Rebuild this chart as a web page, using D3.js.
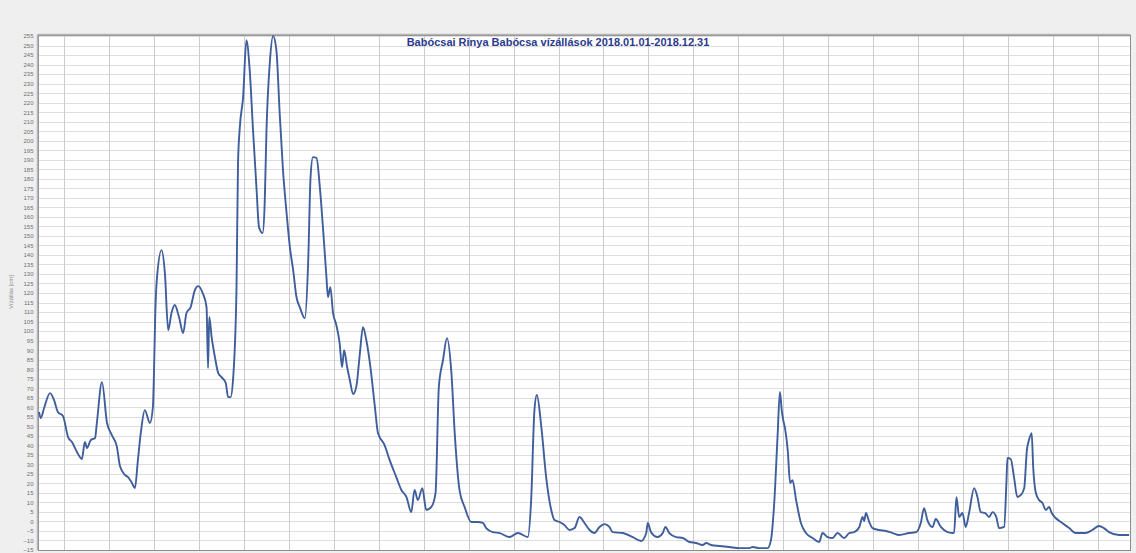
<!DOCTYPE html>
<html>
<head>
<meta charset="utf-8">
<script src="https://cdn.jsdelivr.net/npm/d3@7"></script>
<style>
  html, body { margin: 0; padding: 0; background: #efefef; }
  svg { display: block; }
</style>
</head>
<body>
<svg id="chart" width="1136" height="553"></svg>
<script>
// Babócsa gauge (Rinya) water levels, 2018 — day of year (0 = Jan 1) and level in cm
const chartTitle = "Babócsai Rinya Babócsa vízállások 2018.01.01-2018.12.31";
const axisTitle = "Vízállás [cm]";

const dayOfYear = [
  0, 0.6, 1.7, 3.7, 5.0, 6.3, 8.0, 9.7, 11.0, 12.7, 14.3, 15.3, 16.0, 17.3, 18.7, 19.3,
  21.0, 22.7, 24.3, 26.0, 27.0, 28.7, 29.7, 31.0, 32.0, 33.0, 34.0, 35.3, 37.0, 38.0,
  38.3, 38.8, 39.3, 40.9, 42.0, 43.1, 44.2, 45.3, 46.7, 48.1, 49.2, 50.6, 52.0, 53.1,
  54.6, 55.9, 56.4, 56.8, 57.6, 58.7, 59.8, 60.9, 62.3, 63.1, 63.9, 64.8, 65.9, 66.4,
  67.0, 68.1, 69.2, 70.3, 71.4, 72.6, 73.4, 74.6, 75.3, 75.9, 77.0, 78.1, 79.2, 80.3,
  81.4, 82.6, 83.7, 84.8, 85.9, 87.0, 88.7, 89.8, 90.6, 91.4, 92.6, 93.7, 94.8, 95.9,
  96.4, 97.2, 98.1, 99.2, 100.3, 101.1, 101.8, 102.8, 103.7, 104.8, 105.9, 107.0, 108.1,
  109.2, 110.7, 112.0, 113.1, 115.3, 117.0, 119.2, 120.9, 122.6, 124.2, 125.3, 126.4,
  127.9, 129.2, 130.9, 132.3, 133.4, 134.8, 136.1, 137.6, 138.7, 140.3, 142.0, 144.2,
  146.4, 148.1, 149.2, 151.4, 153.7, 157.0, 159.8, 163.1, 164.2, 165.3, 166.1, 167.6,
  169.2, 170.9, 172.0, 173.7, 175.3, 177.0, 178.7, 180.3, 182.0, 183.7, 185.3, 187.0,
  188.7, 190.3, 191.4, 194.8, 198.1, 200.9, 202.6, 203.1, 204.2, 206.4, 208.1, 209.0,
  210.3, 212.6, 214.8, 217.0, 219.2, 221.4, 222.6, 224.2, 227.0, 230.3, 233.7, 237.0,
  238.1, 240.3, 243.1, 244.2, 245.3, 246.4, 247.2, 247.8, 248.3, 249.0, 249.8, 250.6,
  251.4, 252.6, 254.2, 255.9, 258.1, 260.3, 261.4, 263.1, 264.8, 266.4, 268.7, 270.3,
  272.0, 273.7, 274.8, 275.3, 275.9, 277.0, 278.1, 280.3, 282.6, 284.8, 287.0, 290.3,
  292.6, 294.2, 295.3, 296.4, 298.1, 299.2, 300.9, 303.1, 305.3, 306.1, 307.0, 308.1,
  309.2, 310.3, 312.0, 313.1, 314.2, 315.7, 317.0, 318.1, 319.4, 320.3, 322.0, 322.8,
  323.1, 324.2, 325.3, 326.4, 327.6, 328.7, 329.6, 330.3, 331.2, 331.7, 332.6, 333.7,
  334.8, 335.9, 337.0, 337.9, 339.2, 341.4, 343.7, 345.9, 349.2, 351.4, 353.7, 355.3,
  357.0, 360.3, 363.7
];

const level = [
  57.5, 54.3, 59.6, 67.4, 63.8, 57.5, 55.4, 44.3, 41.7, 36.4, 32.8, 41.7, 38.6, 42.8, 43.8, 51.7,
  73.2, 51.7, 45.4, 39.1, 29.1, 24.4, 23.3, 20.2, 17.5, 32.2, 47.0, 58.5, 51.7, 60.1,
  74.3, 109.5, 126.8, 142.5, 130.5, 100.5, 109.5, 113.7, 107.4, 99.0, 109.5, 112.6, 121.5, 123.6,
  120.0, 112.6, 80.6, 107.4, 96.8, 86.3, 77.9, 75.8, 72.7, 65.3, 65.3, 75.8, 123.1, 188.2,
  207.1, 222.9, 252.8, 237.1, 205.6, 174.1, 154.6, 151.5, 167.2, 205.6, 240.8, 255.0, 247.6, 214.5,
  184.6, 162.0, 144.1, 132.0, 117.9, 112.6, 106.8, 135.7, 180.9, 191.4, 190.9, 175.6, 153.0, 128.4,
  117.9, 123.1, 109.5, 103.2, 93.7, 81.1, 90.0, 81.1, 74.3, 66.9, 71.1, 87.4, 102.1,
  95.3, 79.5, 61.1, 46.4, 40.1, 32.2, 23.3, 16.5, 12.8, 4.9, 16.5, 11.2,
  17.5, 6.0, 7.6, 14.9, 70.6, 84.8, 96.3, 77.9, 46.4, 16.5, 7.6, -0.3,
  -0.3, -0.8, -3.5, -5.6, -6.1, -8.2, -6.1, -8.2, 11.2, 58.5, 66.4, 49.6,
  23.3, 6.0, 0.7, -0.3, -1.9, -4.5, -3.5, 2.3, -0.8, -4.5, -6.1, -2.9,
  -1.4, -2.9, -5.6, -6.1, -8.2, -10.3, -6.1, -0.8, -5.6, -8.2, -6.1, -2.9,
  -6.1, -8.2, -8.7, -10.8, -11.3, -12.4, -11.3, -12.4, -12.9, -13.4, -14.0, -14.0,
  -13.4, -14.0, -14.0, -9.8, 9.7, 44.3, 68.0, 58.5, 53.3, 48.0, 37.5, 20.2,
  21.7, 11.2, -0.8, -6.1, -8.7, -10.8, -6.1, -8.2, -8.7, -6.1, -8.7, -6.1,
  -5.6, -2.9, 2.3, 0.2, 4.4, -0.3, -3.5, -4.5, -5.0, -6.1, -7.1, -6.1,
  -5.6, -0.8, 7.0, 0.7, -2.9, 1.3, -2.9, -5.6, -6.1, 12.8, 2.3, 4.4,
  -2.9, 4.4, 17.5, 12.8, 4.9, 4.4, 2.3, 4.9, 2.3, -3.5, -2.9, 21.7,
  33.3, 32.8, 23.3, 12.8, 13.9, 17.5, 37.5, 42.8, 46.4, 28.6, 14.9, 11.2,
  9.7, 6.0, 7.6, 4.4, 1.8, -0.8, -3.5, -6.1, -6.1, -4.5, -2.4, -3.5,
  -5.6, -7.1, -7.1
];

// level axis labels every 5 cm, vertical grid every 15 days
const levelTicks = d3.range(-15, 256, 5);
const gridDays = d3.range(8.33, 364, 15);

const svg = d3.select("#chart");
const plot = { left: 38.5, right: 1130.5, top: 35.5, bottom: 550.5 };

const x = d3.scaleLinear().domain([0, 364]).range([39, 1130]);
const y = d3.scaleLinear().domain([-15, 255]).range([550, 36]);

// plot background
svg.append("rect")
  .attr("x", plot.left).attr("y", plot.top)
  .attr("width", plot.right - plot.left).attr("height", plot.bottom - plot.top)
  .attr("fill", "#ffffff");

// horizontal grid
svg.append("g")
  .selectAll("line")
  .data(levelTicks)
  .join("line")
  .attr("x1", plot.left).attr("x2", plot.right)
  .attr("y1", d => Math.round(y(d)) + 0.5).attr("y2", d => Math.round(y(d)) + 0.5)
  .attr("stroke", "#dedede").attr("stroke-width", 1);

// vertical grid
svg.append("g")
  .selectAll("line")
  .data(gridDays)
  .join("line")
  .attr("x1", d => Math.round(x(d)) + 0.5).attr("x2", d => Math.round(x(d)) + 0.5)
  .attr("y1", plot.top).attr("y2", plot.bottom)
  .attr("stroke", "#cbcbcb").attr("stroke-width", 1);

// level axis labels
const yAxis = d3.axisLeft(y).tickValues(levelTicks).tickSize(0).tickPadding(5);
const gy = svg.append("g").attr("transform", `translate(${plot.left},0)`).call(yAxis);
gy.select(".domain").remove();
gy.selectAll("text")
  .attr("fill", "#6f6f6f")
  .style("font-family", "'Liberation Sans', Arial, sans-serif")
  .style("font-size", "6px");

// axis title
svg.append("text")
  .attr("transform", "translate(13,292) rotate(-90)")
  .attr("text-anchor", "middle")
  .attr("fill", "#8a8a8a")
  .style("font-family", "'Liberation Sans', Arial, sans-serif")
  .style("font-size", "6px")
  .text(axisTitle);

// frame
svg.append("rect")
  .attr("x", plot.left).attr("y", plot.top)
  .attr("width", plot.right - plot.left).attr("height", plot.bottom - plot.top)
  .attr("fill", "none").attr("stroke", "#8c8c8c").attr("stroke-width", 1);
svg.append("line")
  .attr("x1", plot.left - 1).attr("x2", plot.right)
  .attr("y1", plot.top - 1).attr("y2", plot.top - 1)
  .attr("stroke", "#b5b5b5").attr("stroke-width", 1.5);
svg.append("line")
  .attr("x1", plot.left - 1).attr("x2", plot.left - 1)
  .attr("y1", plot.top - 1).attr("y2", plot.bottom)
  .attr("stroke", "#b5b5b5").attr("stroke-width", 1.5);

// water level line
const series = dayOfYear.map((d, i) => [d, level[i]]);
const line = d3.line().x(d => x(d[0])).y(d => y(d[1])).curve(d3.curveMonotoneX);
svg.append("path")
  .datum(series)
  .attr("d", line)
  .attr("fill", "none")
  .attr("stroke", "#3f5e9c")
  .attr("stroke-width", 1.9)
  .attr("stroke-linejoin", "round");

// title
svg.append("text")
  .attr("x", 558).attr("y", 46)
  .attr("text-anchor", "middle")
  .attr("fill", "#2b3a8f")
  .style("font-family", "'Liberation Sans', Arial, sans-serif")
  .style("font-weight", "bold")
  .style("font-size", "11px")
  .text(chartTitle);
</script>
</body>
</html>
